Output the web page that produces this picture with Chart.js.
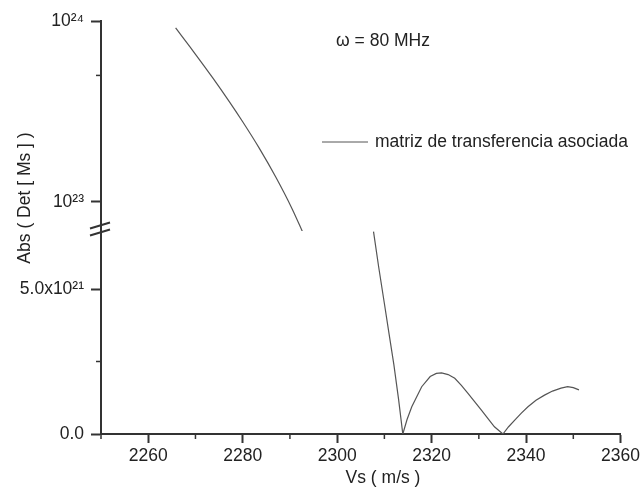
<!DOCTYPE html>
<html>
<head>
<meta charset="utf-8">
<script src="https://cdn.jsdelivr.net/npm/chart.js@4/dist/chart.umd.min.js"></script>
<style>
  body { margin: 0; background: #fff; }
  #wrap { width: 643px; height: 488px; }
</style>
</head>
<body>
<div id="wrap"><canvas id="chart" width="643" height="488"></canvas></div>
<script>
// Vs (m/s) and |Det[Ms]|
// upper (log) part of the broken axis
const vsTop = [2265.8, 2269.5, 2273.7, 2277.2, 2280.0, 2283.5, 2287.0, 2290.5, 2292.8];
const detTop = [9.15e23, 6.82e23, 4.83e23, 3.57e23, 2.77e23, 1.98e23, 1.37e23, 9.1e22, 6.7e22];
// lower (linear) part
const vsBot = [2307.7, 2308.8, 2310.0, 2310.9, 2312.0, 2313.0, 2313.9,
               2314.8, 2315.8, 2317.9, 2319.7, 2321.0, 2322.1, 2323.5, 2324.9, 2326.3,
               2327.7, 2329.1, 2330.5, 2331.9, 2333.3, 2335.1,
               2336.3, 2337.6, 2339.0, 2340.4, 2342.1, 2343.9, 2345.6, 2347.4, 2348.8, 2350.0, 2351.2];
const detBot = [6.98e21, 5.75e21, 4.5e21, 3.55e21, 2.4e21, 1.2e21, 0,
                0.5e21, 0.94e21, 1.63e21, 1.98e21, 2.09e21, 2.11e21, 2.05e21, 1.92e21, 1.68e21,
                1.40e21, 1.12e21, 0.83e21, 0.54e21, 0.25e21, 0,
                0.25e21, 0.48e21, 0.72e21, 0.94e21, 1.16e21, 1.34e21, 1.48e21, 1.58e21, 1.63e21, 1.60e21, 1.52e21];

const topTicks = [1e23, 5e23, 1e24];
const topLabels = { 1e23: '10²³', 1e24: '10²⁴' };
const botTicks = [0, 2.5e21, 5e21];
const botLabels = { 0: '0.0', 5e21: '5.0x10²¹' };
const xMajor = [2260, 2280, 2300, 2320, 2340, 2360];

const seriesLabel = 'matriz de transferencia asociada';
const noteText = 'ω = 80 MHz';
const xTitle = 'Vs ( m/s )';
const yTitle = 'Abs ( Det [ Ms ] )';

const FONT = '"Liberation Sans", Arial, sans-serif';
const FSIZE = 17.5;
const INK = '#333';
const LINE = '#555';

const toPts = (xs, ys) => xs.map((v, i) => ({ x: v, y: ys[i] }));

// titles, legend, note, axis break and short minor ticks
const extras = {
  id: 'extras',
  afterDraw(chart) {
    const ctx = chart.ctx;
    const x = chart.scales.x, yt = chart.scales.yTop, yb = chart.scales.yBot;
    ctx.save();
    ctx.strokeStyle = INK;
    ctx.lineWidth = 1.5;
    // minor ticks
    for (let v = 2250; v <= 2360; v += 10) {
      if (xMajor.includes(v)) continue;
      const px = x.getPixelForValue(v);
      ctx.beginPath(); ctx.moveTo(px, x.top); ctx.lineTo(px, x.top + 5); ctx.stroke();
    }
    [[yt, 5e23], [yb, 2.5e21]].forEach(([s, v]) => {
      const py = s.getPixelForValue(v);
      ctx.beginPath(); ctx.moveTo(s.right, py); ctx.lineTo(s.right - 5, py); ctx.stroke();
    });
    // axis break marks
    const ax = yt.right, by = yt.bottom;
    ctx.lineWidth = 2;
    ctx.beginPath();
    ctx.moveTo(ax - 11, by - 2.5); ctx.lineTo(ax + 9, by - 8.5);
    ctx.moveTo(ax - 11, by + 4.5); ctx.lineTo(ax + 9, by - 1.5);
    ctx.stroke();

    ctx.fillStyle = '#222';
    ctx.font = FSIZE + 'px ' + FONT;
    ctx.textBaseline = 'middle';
    ctx.textAlign = 'center';
    ctx.fillText(xTitle, 383, 478);
    ctx.fillText(noteText, 383, 41);
    ctx.save();
    ctx.translate(25, 198);
    ctx.rotate(-Math.PI / 2);
    ctx.fillText(yTitle, 0, 0);
    ctx.restore();
    // legend
    ctx.strokeStyle = LINE;
    ctx.lineWidth = 1;
    ctx.beginPath(); ctx.moveTo(322, 142); ctx.lineTo(368, 142); ctx.stroke();
    ctx.textAlign = 'left';
    ctx.fillText(seriesLabel, 375, 142);
    ctx.restore();
  }
};

const yCommon = {
  position: 'left',
  stack: 'y',
  grid: { drawOnChartArea: false, tickLength: 10, tickWidth: 2,
          tickColor: c => (c.tick && (topLabels[c.tick.value] || botLabels[c.tick.value] !== undefined)) ? INK : 'rgba(0,0,0,0)' },
  border: { color: INK, width: 2 },
  afterFit: s => { s.width = 101; }
};

new Chart(document.getElementById('chart'), {
  type: 'line',
  data: {
    datasets: [
      { label: seriesLabel, data: toPts(vsTop, detTop), yAxisID: 'yTop',
        borderColor: LINE, borderWidth: 1.2, pointRadius: 0, cubicInterpolationMode: 'monotone' },
      { label: seriesLabel, data: toPts(vsBot, detBot), yAxisID: 'yBot',
        borderColor: LINE, borderWidth: 1.2, pointRadius: 0, tension: 0 }
    ]
  },
  options: {
    responsive: false,
    devicePixelRatio: 1,
    animation: false,
    layout: { padding: { left: 0, top: 21, right: 20, bottom: 0 } },
    plugins: { legend: { display: false }, tooltip: { enabled: false } },
    scales: {
      x: {
        type: 'linear', min: 2250, max: 2360,
        ticks: { stepSize: 10, autoSkip: false, maxRotation: 0, padding: 3, color: '#222',
                 font: { family: FONT, size: FSIZE },
                 callback: v => xMajor.includes(v) ? String(v) : '' },
        grid: { drawOnChartArea: false, tickLength: 9, tickWidth: 2,
                tickColor: c => (c.tick && xMajor.includes(c.tick.value)) ? INK : 'rgba(0,0,0,0)' },
        border: { color: INK, width: 2 },
        afterFit: s => { s.height = 54; }
      },
      yBot: Object.assign({}, yCommon, {
        type: 'linear', min: 0, max: 7.0e21, stackWeight: 203,
        afterBuildTicks: s => { s.ticks = botTicks.map(v => ({ value: v })); },
        ticks: { padding: 7, color: '#222', font: { family: FONT, size: FSIZE },
                 callback: v => botLabels[v] !== undefined ? botLabels[v] : '' }
      }),
      yTop: Object.assign({}, yCommon, {
        type: 'logarithmic', min: 6.89e22, max: 1e24, stackWeight: 210,
        afterBuildTicks: s => { s.ticks = topTicks.map(v => ({ value: v })); },
        ticks: { padding: 7, color: '#222', font: { family: FONT, size: FSIZE },
                 callback: v => topLabels[v] || '' }
      })
    }
  },
  plugins: [extras]
});
</script>
</body>
</html>
